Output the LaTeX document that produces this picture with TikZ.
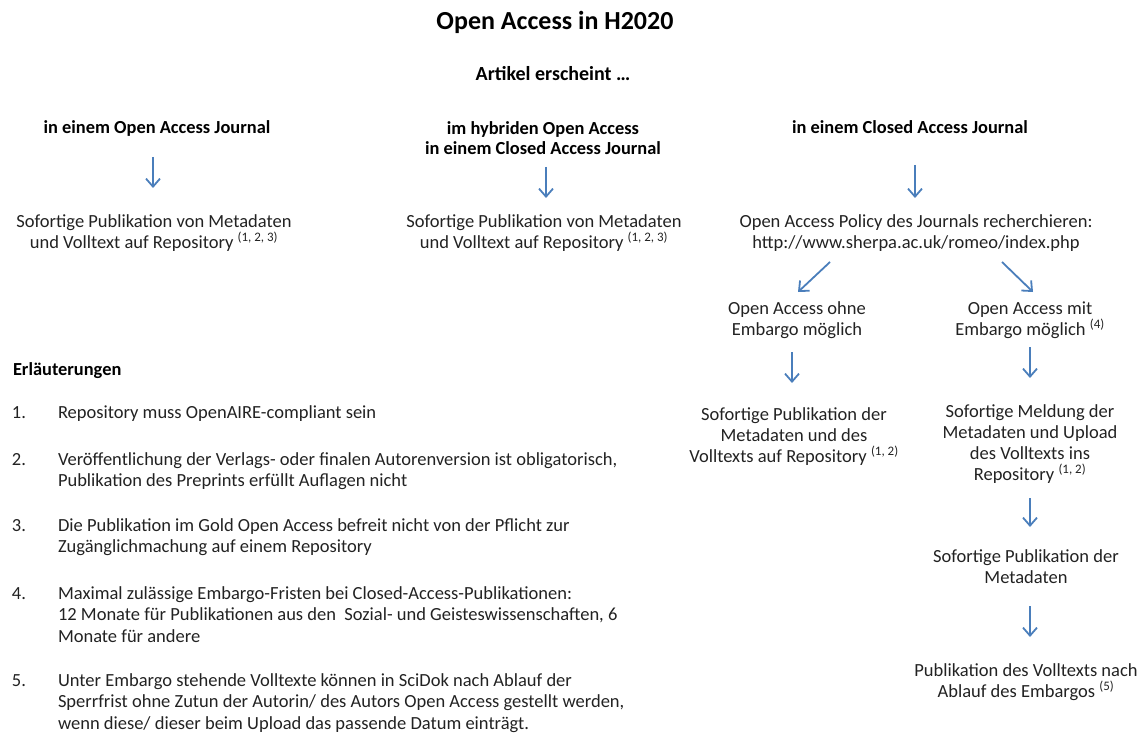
\documentclass[tikz,border=0pt]{standalone}
\usepackage{fontspec}
\setmainfont{Carlito}
\usetikzlibrary{arrows.meta}
\definecolor{arrowblue}{HTML}{4A7EBB}
\definecolor{txt}{HTML}{222222}
\newcommand{\reg}{\fontsize{18.5}{21}\selectfont}
\begin{document}
\begin{tikzpicture}[x=1pt,y=-1pt,
  every node/.style={inner sep=0pt,outer sep=0pt,text=txt,font=\reg},
  lbl/.style={align=center,anchor=base},
  hdr/.style={align=center,anchor=base,text=black,font=\fontsize{18.4}{20.5}\selectfont\bfseries},
  arr/.style={draw=arrowblue,line width=1.8pt,-{Straight Barb[length=8pt,width=14pt,line width=1.8pt]}},
  num/.style={anchor=base west},
  item/.style={anchor=base west,align=left,font=\fontsize{18.5}{21.8}\selectfont}
]
\useasboundingbox (0,0) rectangle (1144,733);
% title
\node[anchor=base,text=black,font=\fontsize{26}{28}\selectfont\bfseries] (title) at (555,30) {Open Access in H2020};
\node[anchor=base,text=black,font=\fontsize{20}{22}\selectfont\bfseries] (art) at (553,81) {Artikel erscheint \dots};
% headers
\node[hdr] (h1) at (157,134) {in einem Open Access Journal};
\node[hdr] (h2) at (543,155) {im hybriden Open Access\\in einem Closed Access Journal};
\node[hdr] (h3) at (910,134) {in einem Closed Access Journal};
% second row
\node[lbl] (b1) at (154,248) {Sofortige Publikation von Metadaten\\und Volltext auf Repository \textsuperscript{(1, 2, 3)}};
\node[lbl] (b2) at (544,248) {Sofortige Publikation von Metadaten\\und Volltext auf Repository \textsuperscript{(1, 2, 3)}};
\node[lbl] (b3) at (916,248) {Open Access Policy des Journals recherchieren:\\http://www.sherpa.ac.uk/romeo/index.php};
% third row
\node[lbl] (c1) at (797,335) {Open Access ohne\\Embargo möglich};
\node[lbl] (c2) at (1030,335) {Open Access mit\\Embargo möglich \textsuperscript{(4)}};
% fourth row
\node[lbl] (d1) at (794,462) {Sofortige Publikation der\\Metadaten und des\\Volltexts auf Repository \textsuperscript{(1, 2)}};
\node[lbl] (d2) at (1030,480) {Sofortige Meldung der\\Metadaten und Upload\\des Volltexts ins\\Repository \textsuperscript{(1, 2)}};
\node[lbl] (e2) at (1026,583) {Sofortige Publikation der\\Metadaten};
\node[lbl] (f2) at (1026,697) {Publikation des Volltexts nach\\Ablauf des Embargos \textsuperscript{(5)}};
% arrow end points
\coordinate (a1s) at (153,157); \coordinate (a1e) at (153,188);
\coordinate (a2s) at (546,167); \coordinate (a2e) at (546,198);
\coordinate (a3s) at (915,165); \coordinate (a3e) at (915,198);
\coordinate (a4s) at (830,262); \coordinate (a4e) at (798,292);
\coordinate (a5s) at (1002,262); \coordinate (a5e) at (1033,292);
\coordinate (a6s) at (792,352); \coordinate (a6e) at (792,383);
\coordinate (a7s) at (1030,347); \coordinate (a7e) at (1030,378);
\coordinate (a8s) at (1030,498); \coordinate (a8e) at (1030,527);
\coordinate (a9s) at (1030,606); \coordinate (a9e) at (1030,637);
\foreach \i in {1,...,9} {\draw[arr] (a\i s) -- (a\i e);}
% legend
\node[anchor=base west,text=black,font=\fontsize{18.4}{21}\selectfont\bfseries] (leg) at (13,375) {Erläuterungen};
\node[num] (n1) at (12,418) {1.};
\node[item] (t1) at (58,418) {Repository muss OpenAIRE-compliant sein};
\node[num] (n2) at (12,465) {2.};
\node[item] (t2) at (58,486.8) {Veröffentlichung der Verlags- oder finalen Autorenversion ist obligatorisch,\\Publikation des Preprints erfüllt Auflagen nicht};
\node[num] (n3) at (12,531) {3.};
\node[item] (t3) at (58,552.8) {Die Publikation im Gold Open Access befreit nicht von der Pflicht zur\\Zugänglichmachung auf einem Repository};
\node[num] (n4) at (12,599) {4.};
\node[item] (t4) at (58,642.6) {Maximal zulässige Embargo-Fristen bei Closed-Access-Publikationen:\\12 Monate für Publikationen aus den\ \ Sozial- und Geisteswissenschaften, 6\\Monate für andere};
\node[num] (n5) at (12,686) {5.};
\node[item] (t5) at (58,729.6) {Unter Embargo stehende Volltexte können in SciDok nach Ablauf der\\Sperrfrist ohne Zutun der Autorin/ des Autors Open Access gestellt werden,\\wenn diese/ dieser beim Upload das passende Datum einträgt.};
\end{tikzpicture}
\end{document}
